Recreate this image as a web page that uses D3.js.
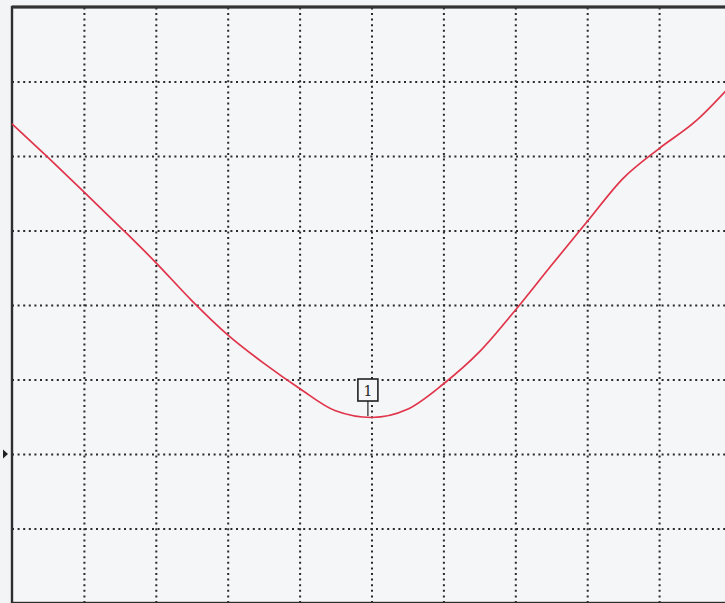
<!DOCTYPE html>
<html>
<head>
<meta charset="utf-8">
<script src="https://cdn.jsdelivr.net/npm/d3@7"></script>
<style>
  body { margin: 0; background: #f3f4f6; }
  svg { display: block; }
</style>
</head>
<body>
<div id="chart"></div>
<script>
// screen divisions (10 across, 8 up)
let xDivs = [1, 2, 3, 4, 5, 6, 7, 8, 9];
let yDivs = [1, 2, 3, 4, 5, 6, 7];

// trace in divisions
let traceX = [0, 0.5, 1, 1.5, 2, 2.5, 3, 3.5, 4, 4.5, 5, 5.5, 6, 6.5, 7, 7.5, 8, 8.5, 9, 9.5, 10];
let traceY = [6.43, 5.98, 5.52, 5.05, 4.57, 4.06, 3.6, 3.22, 2.88, 2.58, 2.49, 2.6, 2.94, 3.37, 3.93, 4.53, 5.12, 5.7, 6.1, 6.46, 6.95];

// marker 1 and the reference level arrow
let markerX = 4.95;
let markerY = 2.51;
let refLevel = 2;

const W = 725, H = 603;
const x = d3.scaleLinear().domain([0, 10]).range([12, 731]);
const y = d3.scaleLinear().domain([0, 8]).range([603, 7]);

const svg = d3.select('#chart').append('svg')
  .attr('width', W)
  .attr('height', H);

svg.append('rect')
  .attr('x', x(0)).attr('y', y(8))
  .attr('width', x(10) - x(0)).attr('height', y(0) - y(8))
  .attr('fill', '#f5f6f8');

// grid, from the axes
const gx = svg.append('g')
  .attr('transform', `translate(0,${y(0)})`)
  .call(d3.axisBottom(x).tickValues(xDivs).tickSize(-(y(0) - y(8))).tickFormat(''));
const gy = svg.append('g')
  .attr('transform', `translate(${x(0)},0)`)
  .call(d3.axisLeft(y).tickValues(yDivs).tickSize(-(x(10) - x(0))).tickFormat(''));
[gx, gy].forEach(function(g) {
  g.select('.domain').remove();
  g.selectAll('.tick line')
    .attr('stroke', '#2a2a2a')
    .attr('stroke-width', 2)
    .attr('stroke-dasharray', '2,3.6');
});

// frame
svg.append('rect')
  .attr('x', x(0)).attr('y', y(8))
  .attr('width', x(10) - x(0)).attr('height', y(0) - y(8))
  .attr('fill', 'none')
  .attr('stroke', '#2e2e2e')
  .attr('stroke-width', 2.4);
// top edge is drawn heavier
svg.append('line')
  .attr('x1', x(0)).attr('x2', W)
  .attr('y1', y(8)).attr('y2', y(8))
  .attr('stroke', '#333')
  .attr('stroke-width', 3.2);

// trace
const traceData = traceX.map(function(d, i) { return { x: d, y: traceY[i] }; });
const line = d3.line()
  .x(function(d) { return x(d.x); })
  .y(function(d) { return y(d.y); })
  .curve(d3.curveMonotoneX);

svg.append('path')
  .datum(traceData)
  .attr('d', line)
  .attr('fill', 'none')
  .attr('stroke', '#e0344a')
  .attr('stroke-width', 1.7);

// marker 1
const mx = x(markerX), my = y(markerY);
svg.append('line')
  .attr('x1', mx).attr('x2', mx)
  .attr('y1', my).attr('y2', my - 15)
  .attr('stroke', '#222')
  .attr('stroke-width', 1.2);
svg.append('rect')
  .attr('x', mx - 10).attr('y', my - 37)
  .attr('width', 20).attr('height', 22)
  .attr('fill', '#f5f6f8')
  .attr('stroke', '#222')
  .attr('stroke-width', 1.6);
svg.append('text')
  .attr('x', mx).attr('y', my - 20)
  .attr('text-anchor', 'middle')
  .attr('font-family', 'DejaVu Serif, serif')
  .attr('font-size', 14)
  .attr('fill', '#222')
  .text('1');

// reference level arrow
const ry = y(refLevel);
svg.append('path')
  .attr('d', `M3,${ry - 4.5} L8,${ry} L3,${ry + 4.5} Z`)
  .attr('fill', '#222');
</script>
</body>
</html>
